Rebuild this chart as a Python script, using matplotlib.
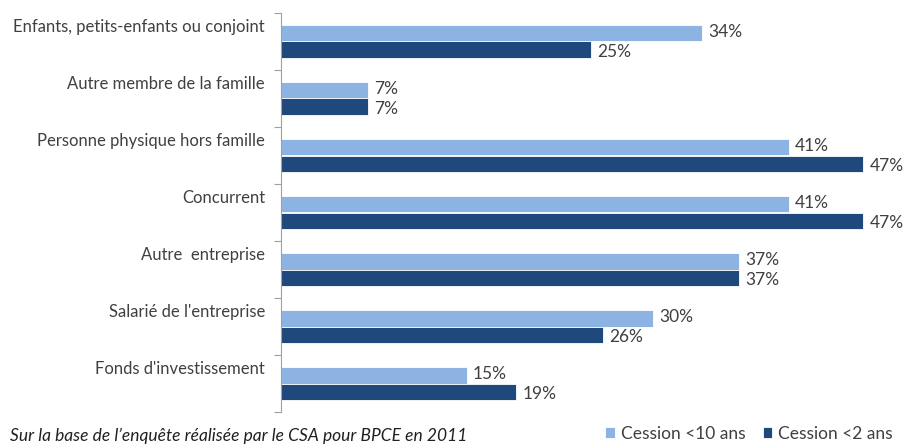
import matplotlib.pyplot as plt
import numpy as np

plt.rcParams['font.family'] = ['Lato', 'DejaVu Sans']

categories = ["Enfants, petits-enfants ou conjoint", "Autre membre de la famille",
              "Personne physique hors famille", "Concurrent", "Autre  entreprise",
              "Salarié de l'entreprise", "Fonds d'investissement"]
cession_10 = [34, 7, 41, 41, 37, 30, 15]
cession_2 = [25, 7, 47, 47, 37, 26, 19]
series_names = ["Cession <10 ans", "Cession <2 ans"]

light = '#8DB3E2'
dark = '#1F497D'
txt = '#404040'

fig = plt.figure(figsize=(9.06, 4.44), dpi=100)
ax = fig.add_axes([281/906, 32/444, 622/906, 399/444])

y = np.arange(len(categories))
h = 0.285
ax.barh(y - h/2, cession_10, height=h, color=light, edgecolor='white', linewidth=0.6, label=series_names[0])
ax.barh(y + h/2, cession_2, height=h, color=dark, edgecolor='white', linewidth=0.6, label=series_names[1])

for i in range(len(categories)):
    ax.text(cession_10[i] + 0.5, y[i] - h/2 - 0.02, f"{cession_10[i]}%", va='center', ha='left',
            fontsize=12.5, color=txt)
    ax.text(cession_2[i] + 0.5, y[i] + h/2 + 0.05, f"{cession_2[i]}%", va='center', ha='left',
            fontsize=12.5, color=txt)
    ax.text(-1.3, y[i] - 0.26, categories[i], va='center', ha='right', fontsize=12, color=txt)

ax.set_xlim(0, 50.2)
ax.set_ylim(len(categories) - 0.5, -0.5)
ax.set_yticks(np.arange(len(categories) + 1) - 0.5)
ax.set_yticklabels([])
ax.tick_params(axis='y', length=5, color='#A0A0A0', direction='out')
ax.set_xticks([])
for s in ['top', 'right', 'bottom']:
    ax.spines[s].set_visible(False)
ax.spines['left'].set_color('#A0A0A0')

fig.legend(loc='lower right', bbox_to_anchor=(1.003, -0.03), ncol=2, frameon=False,
           fontsize=12.5, handlelength=0.55, handleheight=0.55, handletextpad=0.35,
           columnspacing=1.0, labelcolor=txt)
fig.text(10/906, 0/444, "Sur la base de l’enquête réalisée par le CSA pour BPCE en 2011",
         fontsize=12.5, style='italic', color='#202020', ha='left', va='bottom')

fig.savefig('out.png', dpi=100)
